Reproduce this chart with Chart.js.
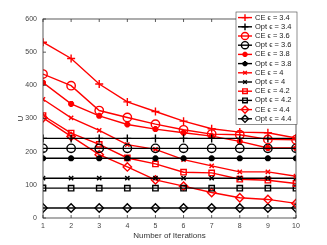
<!DOCTYPE html>
<html lang="en">
<head>
    <meta charset="UTF-8">
    <title>U vs Number of Iterations</title>
    <style>
        body {
            margin: 0;
            background-color: white;
        }
        #chart {
            display: block;
        }
    </style>
</head>
<body>
    <canvas id="chart" width="327" height="245"></canvas>
    <script src="https://cdn.jsdelivr.net/npm/chart.js"></script>
    <script>
        // Data
        const iterations = [1, 2, 3, 4, 5, 6, 7, 8, 9, 10];
        const epsilons = ['3.4', '3.6', '3.8', '4', '4.2', '4.4'];
        const ce34 = [530, 481, 404, 350, 321, 292, 269, 259, 257, 241];
        const ce36 = [434, 399, 324, 303, 283, 266, 253, 251, 237, 236];
        const ce38 = [408, 344, 308, 282, 268, 257, 247, 231, 211, 211];
        const ce40 = [358, 302, 264, 221, 207, 176, 157, 139, 139, 126];
        const ce42 = [309, 256, 222, 181, 163, 138, 136, 117, 114, 104];
        const ce44 = [302, 246, 191, 154, 115, 96, 77, 61, 56, 44];
        const optValues = [240, 210, 180, 120, 90, 30];
        const yTicks = [0, 100, 200, 300, 400, 500, 600];

        const ceSeries = [ce34, ce36, ce38, ce40, ce42, ce44];
        const markers = ['cross', 'circle', 'star', 'crossRot', 'rect', 'rectRot'];
        const radii = [4, 4.2, 3, 3, 3.8, 4.2];

        const datasets = [];
        epsilons.forEach((eps, i) => {
            const star = markers[i] === 'star';
            datasets.push({
                label: 'CE \u03f5 = ' + eps,
                data: iterations.map((x, j) => ({ x: x, y: ceSeries[i][j] })),
                borderColor: '#ff0000',
                backgroundColor: star ? '#ff0000' : 'rgba(0,0,0,0)',
                pointStyle: markers[i],
                pointRadius: radii[i],
                pointBorderWidth: star ? 2.2 : 1.4,
                borderWidth: 1.4
            });
            datasets.push({
                label: 'Opt \u03f5 = ' + eps,
                data: iterations.map(x => ({ x: x, y: optValues[i] })),
                borderColor: '#000000',
                backgroundColor: star ? '#000000' : 'rgba(0,0,0,0)',
                pointStyle: markers[i],
                pointRadius: radii[i],
                pointBorderWidth: star ? 2.2 : 1.4,
                borderWidth: 1.4
            });
        });

        // box + inward ticks like matlab
        const boxPlugin = {
            id: 'box',
            afterDatasetsDraw(chart) {
                const ctx = chart.ctx;
                const a = chart.chartArea;
                const xs = chart.scales.x, ys = chart.scales.y;
                ctx.save();
                ctx.strokeStyle = '#333';
                ctx.lineWidth = 0.8;
                ctx.strokeRect(a.left, a.top, a.right - a.left, a.bottom - a.top);
                ctx.beginPath();
                iterations.forEach(v => {
                    const px = xs.getPixelForValue(v);
                    ctx.moveTo(px, a.bottom); ctx.lineTo(px, a.bottom - 3);
                    ctx.moveTo(px, a.top); ctx.lineTo(px, a.top + 3);
                });
                yTicks.forEach(v => {
                    const py = ys.getPixelForValue(v);
                    ctx.moveTo(a.left, py); ctx.lineTo(a.left + 3, py);
                    ctx.moveTo(a.right, py); ctx.lineTo(a.right - 3, py);
                });
                ctx.stroke();
                ctx.restore();
            },
            afterDraw(chart) {
                // legend box in the top right corner
                const ctx = chart.ctx;
                const left = 236, top = 12, right = 297, rowH = 9.2;
                const sets = chart.data.datasets;
                ctx.save();
                ctx.fillStyle = 'white';
                ctx.fillRect(left, top, right - left, rowH * sets.length + 2);
                ctx.strokeStyle = '#444';
                ctx.lineWidth = 0.6;
                ctx.strokeRect(left, top, right - left, rowH * sets.length + 2);
                ctx.font = '7.5px "Liberation Sans", Arial, sans-serif';
                ctx.textBaseline = 'middle';
                sets.forEach((ds, i) => {
                    const y = top + 1 + rowH * (i + 0.5);
                    ctx.strokeStyle = ds.borderColor;
                    ctx.lineWidth = 1.4;
                    ctx.beginPath();
                    ctx.moveTo(238, y); ctx.lineTo(252, y);
                    ctx.stroke();
                    ctx.fillStyle = ds.backgroundColor;
                    ctx.lineWidth = ds.pointBorderWidth;
                    Chart.helpers.drawPoint(ctx, {
                        pointStyle: ds.pointStyle,
                        radius: ds.pointRadius * 0.85,
                        rotation: 0,
                        borderWidth: ds.pointBorderWidth
                    }, 245, y);
                    ctx.fillStyle = '#222';
                    ctx.fillText(ds.label, 255, y);
                });
                ctx.restore();
            }
        };

        const tickFont = { family: '"Liberation Sans", Arial, sans-serif', size: 7 };

        new Chart(document.getElementById('chart'), {
            type: 'line',
            data: { datasets: datasets },
            options: {
                responsive: false,
                animation: false,
                layout: { padding: { left: 0, top: 19, right: 31, bottom: 0 } },
                plugins: {
                    legend: { display: false },
                    tooltip: { enabled: false }
                },
                elements: { line: { tension: 0 } },
                scales: {
                    x: {
                        type: 'linear',
                        min: 1,
                        max: 10,
                        afterFit: s => { s.height = 27; },
                        afterBuildTicks: s => { s.ticks = iterations.map(v => ({ value: v })); },
                        grid: { display: false, drawTicks: false },
                        border: { display: false },
                        ticks: { font: tickFont, color: '#444', padding: 4, maxRotation: 0 },
                        title: {
                            display: true,
                            text: 'Number of Iterations',
                            font: { family: '"Liberation Sans", Arial, sans-serif', size: 8 },
                            color: '#333',
                            padding: { top: 2, bottom: 4 }
                        }
                    },
                    y: {
                        min: 0,
                        max: 600,
                        afterFit: s => { s.width = 43; },
                        afterBuildTicks: s => { s.ticks = yTicks.map(v => ({ value: v })); },
                        grid: { display: false, drawTicks: false },
                        border: { display: false },
                        ticks: { font: tickFont, color: '#444', padding: 6 },
                        title: {
                            display: true,
                            text: 'U',
                            font: { family: '"Liberation Sans", Arial, sans-serif', size: 8 },
                            color: '#333',
                            padding: { top: 16, bottom: 0 }
                        }
                    }
                }
            },
            plugins: [boxPlugin]
        });
    </script>
</body>
</html>
